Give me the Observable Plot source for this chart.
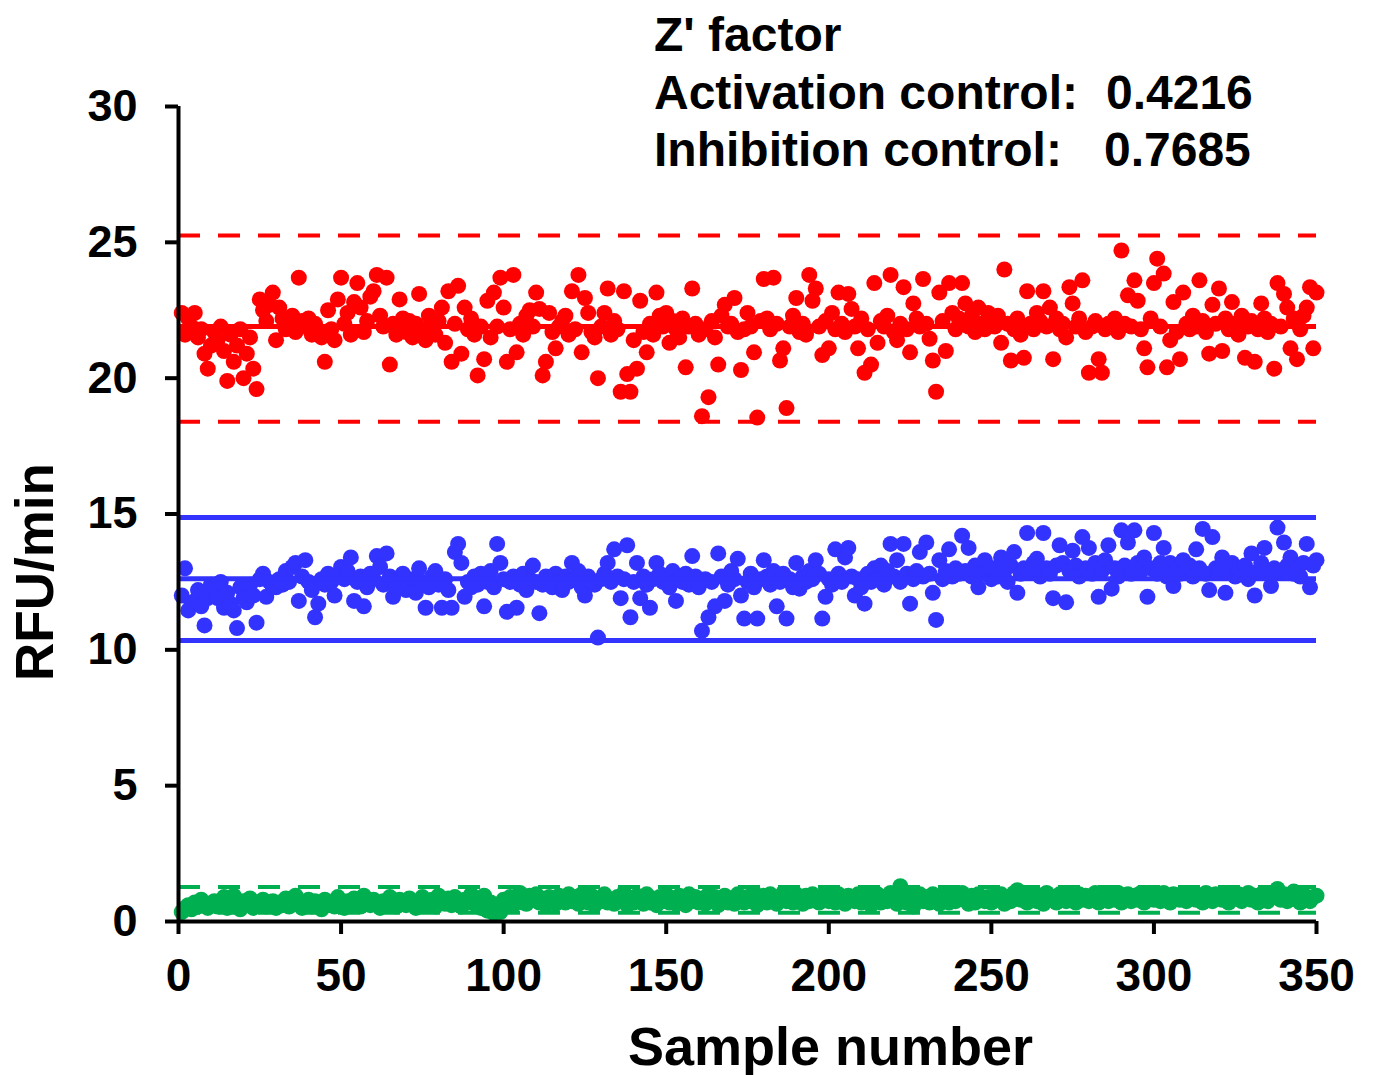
<!DOCTYPE html>
<html>
<head>
<meta charset="utf-8">
<script src="https://cdn.jsdelivr.net/npm/d3@7"></script>
<script src="https://cdn.jsdelivr.net/npm/@observablehq/plot@0.6"></script>
<style>
  html, body { margin: 0; padding: 0; background: #fff; }
  #wrap { position: relative; width: 1374px; height: 1075px; font-family: "Liberation Sans", Arial, sans-serif; }
  .hdr { position: absolute; font-weight: bold; font-size: 48px; line-height: 48px; color: #000; white-space: nowrap; }
</style>
</head>
<body>
<div id="wrap">
  <div id="chart"></div>
  <div class="hdr" style="left:654px; top:11px;">Z' factor</div>
  <div class="hdr" style="left:654px; top:69px;">Activation control:</div>
  <div class="hdr" style="left:1106px; top:69px;">0.4216</div>
  <div class="hdr" style="left:654px; top:126px;">Inhibition control:</div>
  <div class="hdr" style="left:1104px; top:126px;">0.7685</div>
</div>
<script>
// Activation control (red), samples 1..350
const activation = [
  22.4, 21.6, 22.2, 21.9, 22.4, 21.5, 21.8, 20.9, 20.35, 21.2,
  21.7, 21.4, 21.9, 21.0, 19.9, 21.6, 20.6, 21.2, 21.8, 20.0,
  20.9, 21.5, 20.35, 19.6, 22.9, 22.5, 22.1, 22.7, 23.15, 21.4,
  22.6, 22.2, 21.8, 22.0, 22.3, 21.7, 23.7, 22.1, 21.9, 22.2,
  21.6, 22.0, 21.7, 21.5, 20.6, 22.5, 21.8, 21.4, 22.9, 23.7,
  22.0, 22.4, 21.6, 22.8, 23.5, 22.6, 21.7, 22.1, 23.0, 23.2,
  23.8, 22.3, 21.9, 23.7, 20.5, 22.0, 21.6, 22.9, 22.2, 21.7,
  22.1, 21.5, 22.0, 23.1, 21.8, 21.4, 22.3, 21.9, 21.6, 22.1,
  22.6, 21.3, 23.2, 20.6, 22.0, 23.4, 20.9, 22.6, 21.8, 22.2,
  21.6, 20.1, 21.9, 20.7, 22.85, 21.5, 23.15, 21.9, 23.7, 22.6,
  20.6, 21.8, 23.8, 20.95, 22.0, 21.6, 22.3, 22.5, 21.9, 23.15,
  22.55, 20.1, 20.6, 22.4, 21.7, 21.1, 21.9, 22.1, 22.3, 21.6,
  23.2, 21.8, 23.8, 20.95, 22.95, 22.4, 21.7, 21.5, 20.0, 21.9,
  22.4, 23.3, 21.6, 22.1, 21.8, 19.5, 23.2, 20.15, 19.5, 21.4,
  20.35, 22.85, 21.7, 20.95, 22.0, 21.6, 23.15, 22.3, 21.9, 22.4,
  21.3, 22.1, 21.8, 21.5, 22.2, 20.4, 21.9, 23.3, 22.0, 21.6,
  18.6, 21.8, 19.3, 22.1, 21.5, 20.5, 22.3, 22.7, 21.9, 22.0,
  22.95, 21.7, 20.3, 21.8, 22.4, 21.9, 20.95, 18.55, 22.1, 23.65,
  22.2, 21.8, 23.7, 22.0, 20.65, 21.1, 18.9, 21.9, 22.3, 22.95,
  21.7, 22.0, 21.6, 23.8, 22.85, 23.3, 21.9, 20.85, 22.1, 21.1,
  22.4, 21.8, 23.15, 22.0, 21.7, 23.1, 22.55, 21.9, 21.1, 22.2,
  20.2, 21.8, 20.5, 23.5, 21.3, 22.1, 21.9, 22.3, 23.8, 21.7,
  21.4, 22.0, 23.35, 21.8, 20.95, 22.75, 22.2, 21.9, 23.65, 22.0,
  21.45, 20.65, 19.5, 23.15, 22.1, 21.0, 23.5, 22.4, 21.8, 22.2,
  23.5, 22.75, 21.9, 22.3, 21.7, 22.6, 22.0, 21.8, 22.4, 22.1,
  21.9, 22.3, 21.3, 24.0, 22.0, 20.65, 21.8, 22.2, 21.6, 20.75,
  23.2, 22.0, 21.8, 22.4, 22.1, 23.2, 21.9, 22.6, 20.7, 22.2,
  21.8, 22.0, 21.5, 23.35, 22.75, 21.9, 22.2, 23.6, 21.7, 20.2,
  21.9, 22.1, 20.7, 20.2, 21.8, 22.0, 21.9, 22.2, 21.7, 24.7,
  22.0, 23.05, 21.9, 23.6, 22.85, 21.8, 21.1, 20.4, 22.2, 23.5,
  24.4, 21.9, 23.85, 20.4, 21.4, 22.8, 21.7, 20.7, 23.15, 22.0,
  21.8, 22.3, 21.9, 23.6, 22.1, 21.7, 20.9, 22.7, 22.0, 23.3,
  21.0, 22.2, 21.8, 22.8, 22.0, 21.6, 22.3, 20.75, 21.9, 22.1,
  20.6, 21.8, 22.75, 22.2, 21.7, 22.0, 20.35, 23.5, 21.9, 23.1,
  22.6, 21.1, 22.2, 20.7, 21.8, 22.3, 22.6, 23.35, 21.1, 23.15
];
// Inhibition control (blue)
const inhibition = [
  12.0, 13.0, 11.45, 11.7, 11.8, 12.2, 11.6, 10.9, 11.9, 12.4,
  12.25, 11.9, 12.5, 11.55, 12.1, 11.7, 11.45, 10.8, 12.3, 11.9,
  11.75, 12.4, 12.0, 11.0, 12.6, 12.8, 11.95, 12.5, 12.3, 12.3,
  12.6, 12.4, 12.9, 12.5, 13.05, 13.2, 11.8, 12.7, 13.3, 12.5,
  12.2, 11.2, 11.7, 12.6, 12.4, 12.8, 12.5, 12.0, 12.7, 13.05,
  12.6, 12.9, 13.4, 11.8, 12.5, 12.7, 11.6, 12.3, 12.8, 12.6,
  13.45, 13.05, 12.4, 13.55, 12.7, 11.95, 12.3, 12.5, 12.8, 12.2,
  12.4, 12.6, 12.1, 13.0, 12.5, 11.55, 12.3, 12.7, 12.9, 12.4,
  11.55, 12.6, 12.2, 11.55, 13.6, 13.9, 13.2, 11.95, 12.5, 12.3,
  12.7, 12.4, 12.8, 11.6, 12.5, 12.9, 12.3, 13.9, 13.2, 12.6,
  11.4, 12.5, 12.7, 11.55, 12.4, 12.8, 12.2, 12.6, 13.1, 12.5,
  11.35, 12.4, 12.7, 12.6, 12.3, 12.8, 12.5, 12.2, 12.7, 12.5,
  13.2, 12.6, 12.9, 12.3, 12.0, 12.7, 12.5, 12.4, 10.45, 12.6,
  12.8, 13.2, 12.5, 13.7, 12.7, 11.9, 12.6, 13.85, 11.2, 12.5,
  13.2, 11.9, 12.7, 12.4, 11.55, 12.6, 13.2, 12.8, 12.5, 12.7,
  12.3, 12.9, 11.8, 12.6, 12.5, 12.8, 12.4, 13.45, 12.7, 12.3,
  10.7, 12.6, 11.2, 12.5, 11.6, 13.55, 12.7, 11.8, 12.4, 12.9,
  12.6, 13.35, 12.0, 11.15, 12.5, 12.8, 12.3, 11.15, 12.6, 13.3,
  12.7, 12.4, 12.9, 11.6, 12.5, 12.8, 11.15, 12.6, 12.3, 13.2,
  12.25, 12.7, 12.5, 12.9, 12.6, 13.3, 12.8, 11.15, 11.95, 12.6,
  12.4, 13.7, 12.8, 12.5, 13.4, 13.75, 12.7, 12.0, 12.6, 12.3,
  11.7, 12.8, 12.5, 13.0, 12.6, 13.1, 12.4, 12.9, 13.9, 12.7,
  13.3, 12.5, 13.9, 12.8, 11.7, 12.6, 12.9, 13.6, 12.7, 13.95,
  12.8, 12.1, 11.1, 13.3, 12.6, 12.9, 13.7, 12.7, 13.0, 12.8,
  14.2, 12.9, 13.75, 12.7, 13.1, 12.3, 12.8, 13.3, 12.9, 12.6,
  13.0, 12.7, 13.4, 12.9, 12.5, 13.1, 13.6, 12.1, 12.8, 13.0,
  14.3, 12.9, 13.2, 13.35, 12.7, 14.3, 13.0, 12.8, 11.9, 13.1,
  13.85, 13.2, 11.75, 12.9, 13.65, 13.1, 12.7, 14.15, 13.0, 13.75,
  12.8, 13.2, 11.95, 12.9, 13.3, 13.85, 12.25, 13.0, 12.7, 14.4,
  13.1, 13.95, 12.8, 14.4, 13.2, 12.9, 13.4, 11.95, 13.0, 14.3,
  12.8, 13.2, 13.75, 12.7, 13.2, 12.35, 13.0, 12.8, 13.3, 12.9,
  13.1, 12.7, 13.7, 13.0, 14.45, 12.8, 12.2, 14.15, 13.0, 12.9,
  13.4, 12.1, 12.9, 13.2, 12.7, 13.0, 12.8, 13.1, 12.6, 13.55,
  12.0, 12.9, 13.2, 13.75, 12.8, 12.35, 13.0, 14.5, 12.9, 13.95,
  13.1, 13.4, 12.8, 13.0, 12.7, 13.2, 13.9, 12.3, 13.1, 13.3
];
// Background (green)
const background = [
  0.35, 0.5, 0.6, 0.45, 0.7, 0.55, 0.8, 0.6, 0.5, 0.65,
  0.75, 0.55, 0.6, 0.9, 0.5, 0.7, 0.95, 0.6, 0.45, 0.75,
  0.65, 0.85, 0.5, 0.7, 0.6, 0.8, 0.55, 0.65, 0.75, 0.5,
  0.7, 0.6, 0.85, 0.55, 0.65, 0.95, 0.7, 0.5, 0.6, 0.8,
  0.55, 0.75, 0.65, 0.45, 0.8, 0.6, 0.7, 0.55, 0.9, 0.65,
  0.5, 0.75, 0.6, 0.85, 0.7, 0.55, 0.95, 0.65, 0.6, 0.8,
  0.7, 0.5, 0.75, 0.6, 0.9, 0.65, 0.55, 0.8, 0.7, 0.6,
  0.85, 0.65, 0.5, 0.75, 0.9, 0.6, 0.7, 0.8, 0.55, 0.95,
  0.7, 0.65, 0.85, 0.6, 0.9, 0.75, 0.55, 0.8, 0.7, 1.0,
  0.65, 0.85, 0.5, 0.95, 0.4, 0.7, 0.3, 0.6, 0.35, 0.8,
  0.75, 0.9, 0.6, 0.85, 1.05, 0.7, 0.65, 0.95, 0.8, 1.0,
  0.7, 0.85, 0.6, 0.9, 0.75, 0.65, 0.95, 0.8, 0.7, 1.0,
  0.75, 0.9, 0.65, 1.0, 0.8, 0.7, 0.95, 0.6, 0.85, 0.75,
  1.0, 0.7, 0.8, 0.65, 0.9, 0.75, 1.05, 0.6, 0.85, 0.7,
  0.95, 0.8, 0.65, 1.0, 0.7, 0.85, 0.6, 0.9, 0.75, 1.0,
  0.7, 0.85, 0.65, 0.95, 0.8, 0.6, 1.0, 0.75, 0.9, 0.7,
  0.85, 0.65, 1.0, 0.75, 0.9, 0.6, 0.8, 0.95, 0.7, 0.85,
  0.65, 1.0, 0.8, 0.7, 0.9, 0.75, 1.05, 0.6, 0.85, 0.95,
  0.7, 1.0, 0.8, 0.65, 0.9, 1.05, 0.75, 0.85, 0.7, 1.0,
  0.8, 0.65, 0.95, 0.75, 1.0, 0.85, 0.7, 0.9, 1.05, 0.75,
  0.9, 0.7, 1.0, 0.8, 0.65, 0.95, 0.85, 0.75, 1.0, 0.7,
  0.85, 0.95, 0.6, 0.8, 1.0, 0.7, 0.9, 0.75, 1.05, 0.8,
  0.65, 1.3, 0.85, 0.7, 0.95, 0.55, 0.8, 1.0, 0.75, 0.9,
  0.7, 1.0, 0.85, 0.65, 0.95, 0.8, 0.7, 1.0, 0.75, 0.9,
  1.05, 0.8, 0.65, 0.95, 0.7, 1.0, 0.85, 0.75, 0.9, 0.7,
  0.95, 0.8, 1.0, 0.65, 0.9, 0.75, 1.05, 1.15, 0.8, 0.95,
  0.7, 1.0, 0.85, 0.75, 0.95, 0.65, 1.05, 0.8, 0.9, 0.7,
  1.0, 0.85, 0.75, 1.05, 0.9, 0.7, 1.0, 0.8, 0.95, 0.75,
  0.9, 1.05, 0.7, 0.85, 1.0, 0.75, 0.95, 0.8, 1.05, 0.7,
  0.85, 1.0, 0.75, 0.95, 0.8, 1.05, 0.7, 0.9, 1.0, 0.8,
  0.95, 0.75, 1.05, 0.85, 0.7, 1.0, 0.9, 0.8, 1.05, 0.75,
  0.9, 1.0, 0.8, 0.95, 0.7, 1.05, 0.85, 0.75, 1.0, 0.9,
  0.8, 1.05, 0.7, 0.95, 0.85, 1.0, 0.75, 0.9, 1.05, 0.8,
  0.95, 0.7, 1.0, 0.85, 0.75, 1.05, 0.9, 1.2, 0.8, 1.0,
  0.75, 0.95, 1.1, 0.8, 0.7, 1.0, 0.85, 0.75, 0.9, 0.95
];

// Reference lines: mean and ±3 SD bands
const activationMean = [21.9];
const activationBounds = [25.25, 18.4];
const inhibitionLines = [14.87, 12.62, 10.34];
const backgroundBounds = [1.27, 0.32];

const xTicks = [0, 50, 100, 150, 200, 250, 300, 350];
const yTicks = [0, 5, 10, 15, 20, 25, 30];

const RED = "#ff0000", BLUE = "#3333ff", GREEN = "#00b050";

const toRows = arr => arr.map((v, i) => ({sample: i + 1, value: v}));

const chart = Plot.plot({
  width: 1374,
  height: 1075,
  marginLeft: 178,
  marginRight: 58,
  marginTop: 106,
  marginBottom: 154,
  style: {fontFamily: "'Liberation Sans', Arial, sans-serif", fontWeight: "bold", background: "#fff", color: "#000"},
  x: {domain: [0, 350], ticks: xTicks, label: null},
  y: {domain: [0, 30], ticks: yTicks, label: null},
  marks: [
    Plot.axisY(yTicks, {tickSize: 13, strokeWidth: 4, fontSize: 45, tickPadding: 28, label: null}),
    Plot.axisX(xTicks, {tickSize: 13, strokeWidth: 4, fontSize: 46, tickPadding: 24, label: null}),
    Plot.dot(toRows(background), {x: "sample", y: "value", r: 8, fill: GREEN, stroke: null}),
    Plot.ruleY(backgroundBounds, {stroke: GREEN, strokeWidth: 4, strokeDasharray: "22,18"}),
    Plot.dot(toRows(inhibition), {x: "sample", y: "value", r: 8, fill: BLUE, stroke: null}),
    Plot.ruleY(inhibitionLines, {stroke: BLUE, strokeWidth: 5}),
    Plot.dot(toRows(activation), {x: "sample", y: "value", r: 8, fill: RED, stroke: null}),
    Plot.ruleY(activationMean, {stroke: RED, strokeWidth: 5}),
    Plot.ruleY(activationBounds, {stroke: RED, strokeWidth: 4, strokeDasharray: "22,18"}),
    Plot.ruleX([0], {y1: 0, y2: 30, stroke: "#000", strokeWidth: 4}),
    Plot.ruleY([0], {stroke: "#000", strokeWidth: 4}),
    Plot.text(["RFU/min"], {frameAnchor: "left", textAnchor: "middle", lineAnchor: "middle", rotate: -90, dx: -142, dy: 58, fontSize: 53, fontWeight: "bold", fill: "#000"}),
    Plot.text(["Sample number"], {frameAnchor: "bottom", textAnchor: "middle", lineAnchor: "bottom", dx: 83, dy: 143, fontSize: 54, fontWeight: "bold", fill: "#000"})
  ]
});
document.getElementById("chart").appendChild(chart);
</script>
</body>
</html>
